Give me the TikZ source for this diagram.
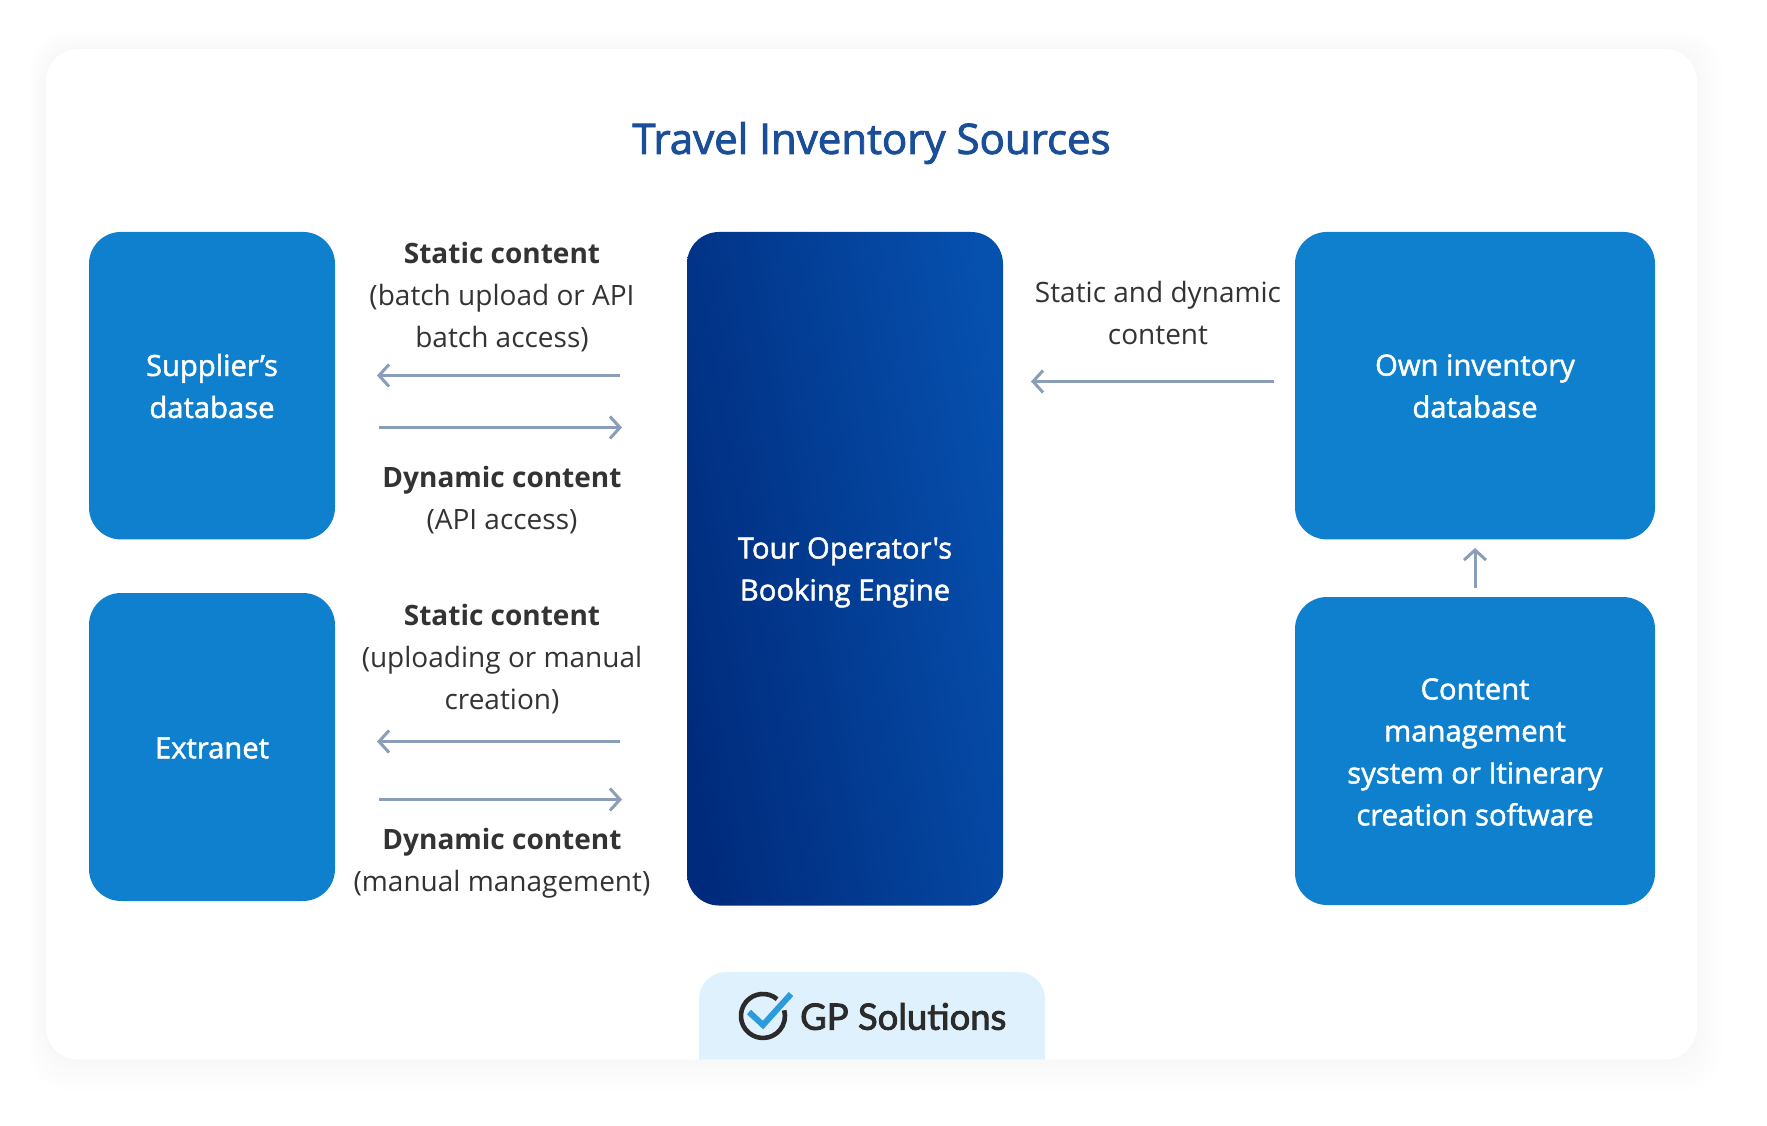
\documentclass[tikz,border=0pt]{standalone}
\usepackage{fontspec}
\setmainfont{Open Sans}
\newfontfamily\semi{Open Sans}[FakeBold=1.6]
\newfontfamily\titlefont{Open Sans}[FakeBold=2.1]
\newfontfamily\logofont{Lato}[FakeBold=2.4]
\usetikzlibrary{arrows.meta}
\definecolor{boxblue}{HTML}{0F80CE}
\definecolor{deepa}{HTML}{002B7C}
\definecolor{deepb}{HTML}{0650AE}
\definecolor{arrowc}{HTML}{8A9EB9}
\definecolor{titlec}{HTML}{1A4E98}
\definecolor{inkc}{HTML}{333333}
\definecolor{tabc}{HTML}{DFF1FD}
\definecolor{checkc}{HTML}{2B9BDC}
\definecolor{ringc}{HTML}{2B2B2B}
\tikzset{
  x=1pt,y=-1pt,
  srcbox/.style={rectangle,rounded corners=32pt,fill=boxblue,draw=none,inner sep=0pt},
  whitelabel/.style={text=white,font=\semi\fontsize{29.2}{42}\selectfont,align=center},
  darklabel/.style={text=inkc,font=\fontsize{28}{42}\selectfont,align=center},
  flow/.style={draw=arrowc,line width=3pt,-{Straight Barb[length=10pt,width=22pt,line width=3pt]}},
}
\begin{document}
\begin{tikzpicture}
\useasboundingbox (0,0) rectangle (1767,1126);
\fill[white] (0,0) rectangle (1767,1126);
% soft shadow
\foreach \d in {28,24,20,16,12,8,4}{
  \fill[black,opacity=0.0045,rounded corners=38pt] (46-\d*0.6,49-\d*0.6) rectangle (1697+\d*0.9,1060+\d*1.1);
}
\fill[white,rounded corners=32pt] (46,49) rectangle (1697,1059.5);
\node[text=titlec,font=\titlefont\fontsize{42}{47}\selectfont] (title) at (871.5,143) {Travel Inventory Sources};
% boxes
\node[srcbox,minimum width=246pt,minimum height=307.5pt] (supplier) at (212,385.7) {};
\node[srcbox,minimum width=246pt,minimum height=308pt] (extranet) at (212,747) {};
\node[srcbox,minimum width=360pt,minimum height=307.5pt] (own) at (1475,385.7) {};
\node[srcbox,minimum width=360pt,minimum height=308pt] (cms) at (1475,751) {};
\begin{scope}
  \clip[rounded corners=32pt] (687,232) rectangle (1003,905.5);
  \shade[left color=deepa,right color=deepb,shading angle=100] (687,232) rectangle (1003,905.5);
\end{scope}
\node[minimum width=316pt,minimum height=673pt,inner sep=0pt] (engine) at (845,568.7) {};
% box labels
\node[whitelabel] (l1) at (212,386) {Supplier’s\\database};
\node[whitelabel] (l2) at (212,748) {Extranet};
\node[whitelabel] (l3) at (845,572.4) {Tour Operator's\\Booking Engine};
\node[whitelabel] (l4) at (1475,386) {Own inventory\\database};
\node[whitelabel] (l5) at (1475,752) {Content\\management\\system or Itinerary\\creation software};
% side texts
\node[darklabel] (t1) at (502,297) {\textbf{Static content}\\(batch upload or API\\batch access)};
\node[darklabel] (t2) at (502,500) {\textbf{Dynamic content}\\(API access)};
\node[darklabel] (t3) at (502,659.5) {\textbf{Static content}\\(uploading or manual\\creation)};
\node[darklabel] (t4) at (502,863.5) {\textbf{Dynamic content}\\(manual management)};
\node[darklabel] (t5) at (1158,312.5) {Static and dynamic\\content};
% connectors
\coordinate (a1s) at (620,375.5); \coordinate (a1e) at (377,375.5);
\coordinate (a2s) at (379,427.5); \coordinate (a2e) at (622,427.5);
\coordinate (a3s) at (620,741.5); \coordinate (a3e) at (377,741.5);
\coordinate (a4s) at (379,799.5); \coordinate (a4e) at (622,799.5);
\coordinate (a5s) at (1274,381.5); \coordinate (a5e) at (1031,381.5);
\coordinate (a6s) at (1475,588); \coordinate (a6e) at (1475,548);
\draw[flow] (a1s) -- (a1e);
\draw[flow] (a2s) -- (a2e);
\draw[flow] (a3s) -- (a3e);
\draw[flow] (a4s) -- (a4e);
\draw[flow] (a5s) -- (a5e);
\draw[flow] (a6s) -- (a6e);
% logo tab
\fill[tabc] (699,1059.5) -- (699,999) arc[start angle=180,end angle=90,radius=27pt] -- (1018,972) arc[start angle=90,end angle=0,radius=27pt] -- (1045,1059.5) -- cycle;
\draw[ringc,line width=4.6pt] (777.1,999.1) arc[start angle=50,end angle=375,radius=22pt];
\draw[checkc,line width=6pt,line join=miter] (749,1012) -- (763,1025) -- (791,994);
\node[text=ringc,font=\logofont\fontsize{36.4}{42}\selectfont,anchor=west,inner sep=0pt] (logo) at (800,1016.5) {GP Solutions};
\end{tikzpicture}
\end{document}
